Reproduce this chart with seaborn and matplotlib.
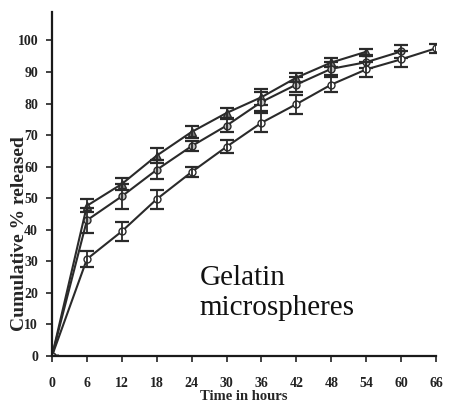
"""
Cumulative release profile - Gelatin microspheres
Three batches, mean +/- SD
"""

import numpy as np
import matplotlib.pyplot as plt
import seaborn as sns
import pandas as pd

# time points (hours)
time_top = [0, 6, 12, 18, 24, 30, 36, 42, 48, 54]
time_mid = [0, 6, 12, 18, 24, 30, 36, 42, 48, 54, 60]
time_low = [0, 6, 12, 18, 24, 30, 36, 42, 48, 54, 60, 66]

# cumulative % released
release_top = [0, 47.6, 54.5, 63.5, 71.0, 77.0, 82.0, 88.2, 93.0, 96.4]
release_mid = [0, 43.0, 50.6, 59.0, 66.5, 73.0, 80.5, 86.0, 91.0, 93.1, 96.5]
release_low = [0, 30.7, 39.5, 49.7, 58.3, 66.3, 73.9, 79.8, 86.0, 90.8, 94.0, 97.5]

# standard deviations
sd_top = [0, 2.0, 2.0, 2.5, 2.0, 1.5, 2.5, 1.5, 1.5, 1.0]
sd_mid = [0, 4.0, 4.0, 3.0, 1.5, 2.0, 3.0, 2.5, 2.0, 2.0, 2.0]
sd_low = [0, 2.5, 3.0, 3.0, 1.5, 2.0, 3.0, 3.0, 2.5, 2.5, 2.5, 1.5]

x_ticks = [0, 6, 12, 18, 24, 30, 36, 42, 48, 54, 60, 66]
y_ticks = [0, 10, 20, 30, 40, 50, 60, 70, 80, 90, 100]

sns.set_style("ticks")
plt.rcParams['font.family'] = ['Liberation Serif', 'DejaVu Serif']

df = pd.concat([
    pd.DataFrame({'time': time_top, 'release': release_top, 'sd': sd_top, 'batch': 'A'}),
    pd.DataFrame({'time': time_mid, 'release': release_mid, 'sd': sd_mid, 'batch': 'B'}),
    pd.DataFrame({'time': time_low, 'release': release_low, 'sd': sd_low, 'batch': 'C'}),
])

fig = plt.figure(figsize=(4.61, 4.07), dpi=100)
ax = fig.add_axes([52 / 461, 51 / 407, 384 / 461, 344 / 407])

line_col = '#2a2a2a'
styles = {
    'A': dict(marker='^', mfc='#7a7a7a', ms=5.5),
    'B': dict(marker='o', mfc='#bdbdbd', ms=5),
    'C': dict(marker='o', mfc='white', ms=5),
}

for batch, sub in df.groupby('batch'):
    st = styles[batch]
    sns.lineplot(data=sub, x='time', y='release', ax=ax, color=line_col,
                 linewidth=1.5, marker=st['marker'], markersize=st['ms'],
                 markerfacecolor=st['mfc'], markeredgecolor=line_col,
                 markeredgewidth=1.0, errorbar=None, legend=False)
    ax.errorbar(sub['time'], sub['release'], yerr=sub['sd'], fmt='none',
                ecolor=line_col, elinewidth=1.3, capsize=5, capthick=1.6)

ax.set_xlim(0, 66)
ax.set_ylim(0, 109)
ax.set_xticks(x_ticks)
ax.set_yticks(y_ticks)
ax.set_xticklabels([str(t) for t in x_ticks], fontsize=10, fontweight='bold')
ax.set_yticklabels([str(t) for t in y_ticks], fontsize=10, fontweight='bold')
ax.tick_params(axis='x', length=4, width=1.2, pad=11, colors='#222222')
ax.tick_params(axis='y', length=4, width=1.2, pad=6, colors='#222222')

sns.despine(ax=ax)
for sp in ['left', 'bottom']:
    ax.spines[sp].set_linewidth(1.6)
    ax.spines[sp].set_color('#1a1a1a')

ax.set_xlabel('Time in hours', fontsize=10.5, fontweight='bold', labelpad=0)
ax.set_ylabel('Cumulative % released', fontsize=14, fontweight='bold')
ax.yaxis.set_label_coords(-0.063, 0.357)

ax.text(0.385, 0.183, 'Gelatin\nmicrospheres', transform=ax.transAxes,
        fontsize=21, ha='left', va='center', linespacing=1.2, color='#111111')

ax.patch.set_alpha(0)
fig.savefig('out.png', dpi=100)
